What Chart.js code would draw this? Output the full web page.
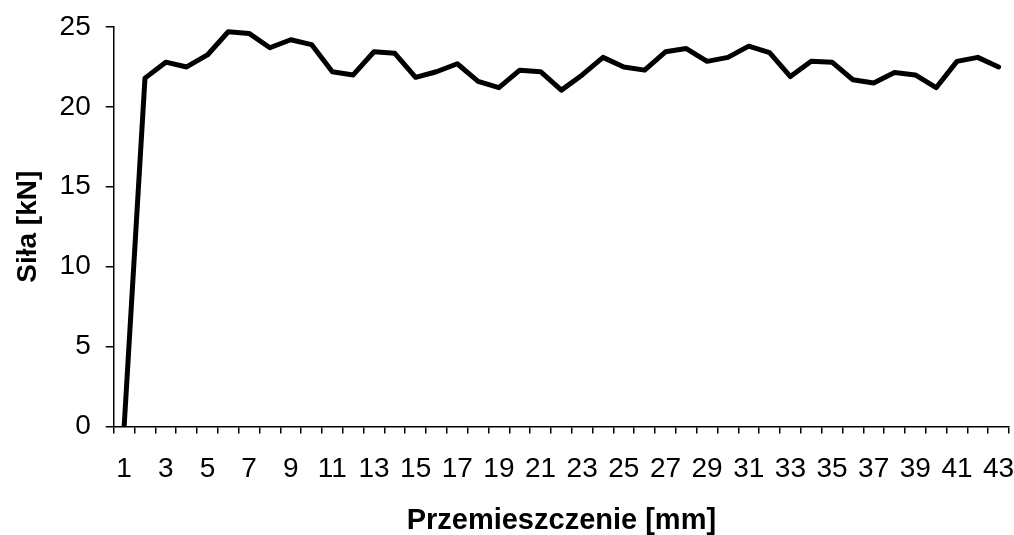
<!DOCTYPE html>
<html>
<head>
<meta charset="utf-8">
<script src="https://cdn.jsdelivr.net/npm/chart.js@4/dist/chart.umd.min.js"></script>
<style>
  html, body { margin: 0; padding: 0; background: #fff; }
  #wrap { width: 1014px; height: 535px; }
</style>
</head>
<body>
<div id="wrap"><canvas id="c" width="1014" height="535"></canvas></div>
<script>
// Displacement steps [mm]
const displacement = [1, 2, 3, 4, 5, 6, 7, 8, 9, 10, 11, 12, 13, 14, 15, 16, 17, 18, 19, 20, 21,
  22, 23, 24, 25, 26, 27, 28, 29, 30, 31, 32, 33, 34, 35, 36, 37, 38, 39, 40, 41, 42, 43];

// Measured force [kN]
const force = [0, 21.8, 22.8, 22.5, 23.25, 24.7, 24.6, 23.7, 24.2, 23.9, 22.2, 22.0, 23.45, 23.35,
  21.85, 22.2, 22.7, 21.6, 21.2, 22.3, 22.2, 21.05, 22.0, 23.1, 22.5, 22.3, 23.45, 23.65, 22.85,
  23.1, 23.8, 23.4, 21.9, 22.85, 22.8, 21.7, 21.5, 22.15, 22.0, 21.2, 22.85, 23.1, 22.5];

// Force axis ticks
const forceTicks = [0, 5, 10, 15, 20, 25];

const xTitle = 'Przemieszczenie [mm]';
const yTitle = 'Siła [kN]';

const tickFont = { family: '"Liberation Sans", Arial, sans-serif', size: 28 };
const xTitleFont = { family: '"Liberation Sans", Arial, sans-serif', size: 29, weight: 'bold', lineHeight: 1 };
const yTitleFont = { family: '"Liberation Sans", Arial, sans-serif', size: 28, weight: 'bold' };

new Chart(document.getElementById('c'), {
  type: 'line',
  data: {
    labels: displacement.map(String),
    datasets: [{
      data: force,
      borderColor: '#000',
      borderWidth: 5,
      pointRadius: 0,
      tension: 0,
      fill: false,
      borderJoinStyle: 'round',
      borderCapStyle: 'round'
    }]
  },
  options: {
    responsive: false,
    animation: false,
    devicePixelRatio: 1,
    layout: { padding: { left: 0, right: 5, top: 27, bottom: 0 } },
    plugins: { legend: { display: false }, tooltip: { enabled: false } },
    scales: {
      x: {
        type: 'category',
        offset: true,
        // label overhang is already covered by the layout padding
        afterFit: function (s) { s.paddingLeft = 0; s.paddingRight = 0; },
        border: { display: true, color: '#000', width: 1.5 },
        grid: { display: true, drawOnChartArea: false, drawTicks: true, tickLength: 7,
                offset: true, color: '#000', lineWidth: 1.5 },
        ticks: {
          autoSkip: false, maxRotation: 0, color: '#000', font: tickFont, padding: 19,
          callback: function (v, i) { return displacement[i] % 2 === 1 ? String(displacement[i]) : ''; }
        },
        title: { display: true, text: xTitle, color: '#000', font: xTitleFont, padding: { top: 1, bottom: 0 } }
      },
      y: {
        min: 0, max: 25,
        afterBuildTicks: function (s) { s.ticks = forceTicks.map(v => ({ value: v })); },
        afterFit: function (s) { s.paddingTop = 0; s.paddingBottom = 0; },
        border: { display: true, color: '#000', width: 1.5 },
        grid: { display: true, drawOnChartArea: false, drawTicks: true, tickLength: 8,
                color: '#000', lineWidth: 1.5 },
        ticks: { color: '#000', font: tickFont, padding: 15 },
        title: { display: true, text: yTitle, color: '#000', font: yTitleFont, padding: { top: 11, bottom: 0 } }
      }
    }
  }
});
</script>
</body>
</html>
